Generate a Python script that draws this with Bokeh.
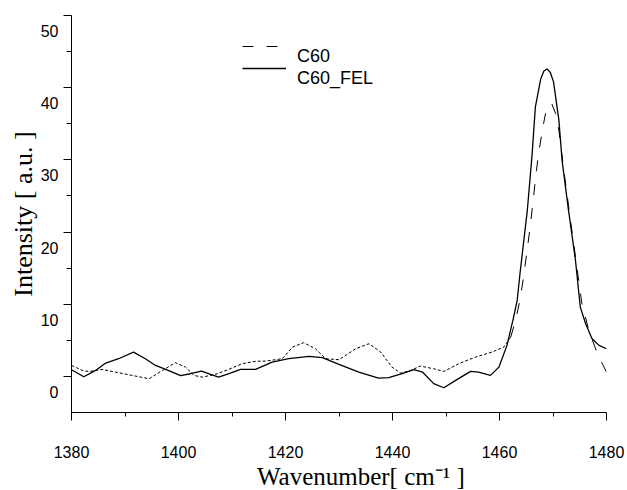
from bokeh.plotting import figure
from bokeh.models import Range1d, LinearAxis, FixedTicker, Legend, LegendItem
from bokeh.embed import file_html
from bokeh.resources import INLINE

# ---- data ----
fel_x = [1380, 1382.3, 1384.5, 1386.4, 1388.8, 1391.6, 1393.8, 1395.7, 1397.6, 1400.4,
         1402.2, 1404.3, 1406.0, 1407.5, 1409.7, 1411.6, 1414.4, 1417.5, 1420.6, 1424.4,
         1426.9, 1430.0, 1433.7, 1437.4, 1439.3, 1441.8, 1444.0, 1445.6, 1447.7, 1449.6,
         1451.8, 1454.6, 1456.1, 1458.3, 1459.9, 1461.4, 1462.5, 1463.3, 1463.9, 1465.2,
         1466.1, 1466.7, 1467.7, 1468.3, 1468.9, 1469.5, 1470.1, 1471.1, 1471.7, 1472.9,
         1474.2, 1475.1, 1476.1, 1477.3, 1478.6, 1480]
fel_y = [0.93, -0.05, 0.83, 1.85, 2.45, 3.37, 2.45, 1.52, 0.97, 0.10,
         0.37, 0.74, 0.28, -0.10, 0.46, 0.97, 0.97, 1.99, 2.45, 2.77,
         2.59, 1.66, 0.60, -0.23, -0.18, 0.37, 0.93, 0.60, -1.00, -1.57,
         -0.55, 0.69, 0.60, 0.14, 1.29, 4.30, 7.76, 10.5, 14.7, 23.0,
         30.8, 37.3, 41.2, 42.3, 42.6, 42.1, 40.8, 35.5, 29.9, 23.0,
         16.1, 9.6, 7.3, 5.22, 4.30, 3.83]

c60_x = [1380, 1382.3, 1383.4, 1385.7, 1388.2, 1391.3, 1394.5, 1397.0, 1399.4, 1401.3,
         1402.9, 1404.4, 1406.9, 1409.4, 1411.9, 1414.4, 1416.3, 1419.4, 1421.3, 1423.4,
         1425.6, 1427.5, 1430.0, 1433.1, 1435.6, 1437.8, 1439.9, 1441.5, 1443.4, 1445.2,
         1447.7, 1449.6, 1452.4, 1455.5, 1458.6, 1460.8, 1462.1, 1463.0, 1463.8, 1464.5,
         1465.8, 1466.9, 1467.3, 1468.0, 1468.6, 1469.7, 1470.5, 1471.1, 1472.1, 1473.6,
         1475.4, 1476.7, 1478.3, 1480]
c60_y = [1.52, 0.74, 0.69, 0.97, 0.60, 0.14, -0.32, 0.83, 1.90, 1.29,
         0.14, -0.10, 0.28, 0.97, 1.76, 2.10, 2.12, 2.45, 4.06, 4.67,
         3.83, 2.45, 2.31, 3.83, 4.53, 3.37, 1.29, 0.46, 0.83, 1.43,
         1.06, 0.69, 1.76, 2.68, 3.37, 4.06, 5.45, 7.76, 10.5, 13.75,
         21.1, 28.5, 30.8, 34.1, 36.4, 37.9, 36.4, 34.1, 28.1, 19.8,
         10.1, 6.37, 3.14, 0.60]
c60_split = 36  # where the plotted dash pattern changes from fine to long

series_names = ["C60", "C60_FEL"]

x_ticks = [1380, 1400, 1420, 1440, 1460, 1480]
x_minor = [1390, 1410, 1430, 1450, 1470]
y_ticks = [0, 10, 20, 30, 40, 50]
y_minor = [5, 15, 25, 35, 45]

SANS = "Liberation Sans"
SERIF = "Liberation Serif"

p = figure(frame_width=535, frame_height=397,
           x_range=Range1d(1380, 1480), y_range=Range1d(-5, 50),
           output_backend="svg", toolbar_location=None,
           min_border_left=71, min_border_right=18, min_border_top=15, min_border_bottom=60)
p.outline_line_color = None
p.grid.visible = False
p.background_fill_color = "white"
p.border_fill_color = "white"

# x axis
xa = p.xaxis[0]
xa.ticker = FixedTicker(ticks=x_ticks, minor_ticks=x_minor)
xa.axis_line_color = "black"
xa.major_tick_line_color = "black"
xa.minor_tick_line_color = "black"
xa.major_tick_in = 0
xa.major_tick_out = 8
xa.minor_tick_in = 0
xa.minor_tick_out = 4
xa.major_label_standoff = 25
xa.major_label_text_font = SANS
xa.major_label_text_font_size = "16px"
xa.major_label_text_color = "black"
xa.axis_label = "\u00a0" * 8 + "Wavenumber[  cm\u207b\u00b9 ]"
xa.axis_label_text_font = SERIF
xa.axis_label_text_font_style = "normal"
xa.axis_label_text_font_size = "25px"
xa.axis_label_text_line_height = 1.0
xa.axis_label_text_color = "black"
xa.axis_label_standoff = 2

# y axis (line and ticks only)
ya = p.yaxis[0]
ya.ticker = FixedTicker(ticks=y_ticks, minor_ticks=y_minor)
ya.axis_line_color = "black"
ya.major_tick_line_color = "black"
ya.minor_tick_line_color = "black"
ya.major_tick_in = 0
ya.major_tick_out = 8
ya.minor_tick_in = 0
ya.minor_tick_out = 5
ya.major_label_overrides = {t: "" for t in y_ticks}
ya.major_label_standoff = 0

# y labels, drawn a little below their ticks as in the reference
shift = 2.15
p.extra_y_ranges = {"lab": Range1d(-5 + shift, 50 + shift)}
yl = LinearAxis(y_range_name="lab", ticker=FixedTicker(ticks=y_ticks, minor_ticks=[]),
                axis_line_color=None, major_tick_line_color=None, minor_tick_line_color=None,
                major_tick_in=0, major_tick_out=0, minor_tick_in=0, minor_tick_out=0,
                major_label_standoff=5, major_label_text_font=SANS,
                major_label_text_font_size="16px", major_label_text_color="black",
                axis_label="Intensity [ a.u. ]", axis_label_text_font=SERIF,
                axis_label_text_font_style="normal", axis_label_text_font_size="26px",
                axis_label_text_color="black", axis_label_standoff=0)
p.add_layout(yl, "left")

# curves
p.line(c60_x[:c60_split + 1], c60_y[:c60_split + 1], line_color="black",
       line_width=1, line_dash="3 2")
r_c60 = p.line(c60_x[c60_split:], c60_y[c60_split:], line_color="black",
               line_width=1, line_dash="11 13")
r_fel = p.line(fel_x, fel_y, line_color="black", line_width=1.3)

# legend: the reference writes each name a little below its line sample
def make_legend(name, renderer, loc):
    lg = Legend(items=[LegendItem(label="\n" + name, renderers=[renderer])],
                location=loc, orientation="vertical",
                padding=0, margin=0, spacing=0,
                glyph_width=44, glyph_height=20, label_height=20, label_standoff=11,
                label_text_font=SANS, label_text_font_size="18px",
                label_text_line_height=1.75, label_text_color="black",
                border_line_color=None, background_fill_alpha=0)
    p.add_layout(lg)

make_legend(series_names[0], r_c60, (171, 345))
make_legend(series_names[1], r_fel, (171, 323))

open("out.html", "w").write(file_html(p, INLINE))
